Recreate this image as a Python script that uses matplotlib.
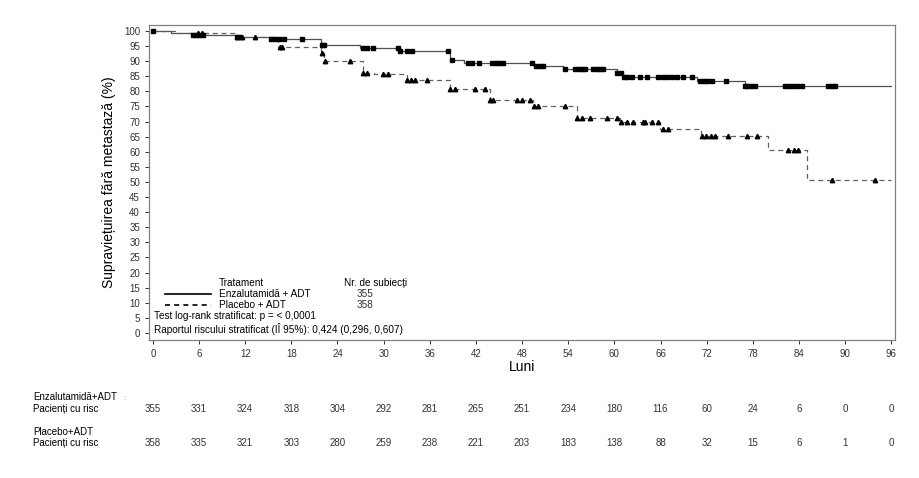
import matplotlib
matplotlib.use("Agg")
import matplotlib.pyplot as plt
import matplotlib.transforms as mtransforms
import numpy as np

plt.rcParams['font.family'] = ['Liberation Sans', 'DejaVu Sans']

# Kaplan-Meier step points (month, % free of metastasis)
enz_t = [0, 2.4, 5.2, 10.9, 15.4, 21.9, 26.9, 32.1, 38.6, 40.5, 49.5, 53.3, 60.3, 61.1, 70.7, 77.0]
enz_s = [100, 99.4, 98.7, 97.9, 97.4, 95.4, 94.3, 93.2, 90.5, 89.5, 88.3, 87.4, 86.0, 84.8, 83.5, 81.6]
pla_t = [0, 3.0, 10.9, 16.3, 21.8, 22.2, 27.3, 28.8, 33.0, 38.6, 43.8, 49.4, 55.1, 60.7, 65.9, 71.3, 80.0, 85.0]
pla_s = [100, 99.4, 97.9, 94.6, 92.6, 90.0, 86.2, 85.6, 83.8, 80.7, 77.2, 75.2, 71.1, 70.0, 67.4, 65.2, 60.6, 50.7]

# censored observations (months)
enz_cens = [0, 5.2, 5.6, 6.0, 6.5, 10.9, 11.3, 15.4, 15.9, 16.4, 17.1, 19.4, 22.0, 22.2, 27.3, 27.8,
            28.6, 31.9, 32.1, 33.0, 33.7, 38.4, 38.9, 41.0, 41.5, 42.4, 44.1, 44.6, 45.0, 45.5,
            49.3, 49.8, 50.3, 50.7, 53.6, 54.9, 55.4, 55.8, 56.2, 57.2, 57.7, 58.1, 58.5, 60.3,
            60.8, 61.2, 61.6, 62.3, 63.3, 64.2, 65.7, 66.3, 66.9, 67.5, 68.1, 68.9, 70.1, 71.1,
            71.6, 72.1, 72.7, 74.5, 77.0, 77.2, 77.7, 78.3, 82.2, 82.7, 83.2, 83.7, 84.4, 87.8,
            88.3, 88.7]
pla_cens = [5.9, 6.4, 10.9, 11.6, 13.3, 16.5, 16.8, 22.0, 22.4, 25.6, 27.3, 27.8, 29.9, 30.6,
            33.0, 33.5, 34.1, 35.6, 38.6, 39.3, 41.9, 43.2, 43.8, 44.2, 47.3, 48.0, 49.0, 49.5,
            50.1, 53.6, 55.1, 55.8, 56.8, 59.0, 60.3, 60.9, 61.6, 62.4, 64.0, 63.7, 64.9, 65.7,
            66.3, 67.0, 71.4, 71.9, 72.5, 73.1, 74.8, 77.2, 78.5, 82.6, 83.3, 83.9, 88.3, 93.9]

months = [0, 6, 12, 18, 24, 30, 36, 42, 48, 54, 60, 66, 72, 78, 84, 90, 96]
risk_enz = [355, 331, 324, 318, 304, 292, 281, 265, 251, 234, 180, 116, 60, 24, 6, 0, 0]
risk_pla = [358, 335, 321, 303, 280, 259, 238, 221, 203, 183, 138, 88, 32, 15, 6, 1, 0]
n_enz, n_pla = 355, 358
end_month = 96


def km_value(t, times, surv):
    idx = np.searchsorted(times, t, side='right') - 1
    return np.asarray(surv)[idx]


fig = plt.figure(figsize=(9.2, 4.78), dpi=100)
ax = fig.add_axes([0.162, 0.289, 0.811, 0.659])

line_col = '#505050'
ax.step(enz_t + [end_month], enz_s + [enz_s[-1]], where='post', color=line_col, lw=0.9)
ax.step(pla_t + [end_month], pla_s + [pla_s[-1]], where='post', color='#606060', lw=0.9,
        ls=(0, (4, 3)))
ax.plot(enz_cens, km_value(enz_cens, enz_t, enz_s), ls='none', marker='s', ms=3.0,
        color='black')
ax.plot(pla_cens, km_value(pla_cens, pla_t, pla_s), ls='none', marker='^', ms=3.2,
        color='black')

ax.set_xlim(-0.5, 96.5)
ax.set_ylim(-2.3, 102)
ax.set_xticks(months)
ax.set_yticks(range(0, 101, 5))
ax.tick_params(labelsize=7, colors='#333333', length=3, width=0.7)
for sp in ax.spines.values():
    sp.set_color('#808080')
    sp.set_linewidth(0.9)

ax.set_xlabel('Luni', fontsize=10, labelpad=1)
ax.set_ylabel('Supraviețuirea fără metastază (%)', fontsize=10, labelpad=6)

# legend block inside the axes
fs = 7.2
ax.text(8.6, 16.6, 'Tratament', fontsize=fs, va='center')
ax.text(24.9, 16.6, 'Nr. de subiecți', fontsize=fs, va='center')
ax.plot([1.6, 7.5], [13.0, 13.0], color='black', lw=1.2)
ax.plot([1.6, 7.5], [9.3, 9.3], color='black', lw=1.2, ls=(0, (3, 2.5)))
ax.text(8.6, 13.0, 'Enzalutamidă + ADT', fontsize=fs, va='center')
ax.text(8.6, 9.3, 'Placebo + ADT', fontsize=fs, va='center')
ax.text(26.5, 13.0, str(n_enz), fontsize=fs, va='center', color='#333333')
ax.text(26.5, 9.3, str(n_pla), fontsize=fs, va='center', color='#333333')
ax.text(0.2, 5.7, 'Test log-rank stratificat: p = < 0,0001', fontsize=fs, va='center')
ax.text(0.2, 1.4, 'Raportul riscului stratificat (IÎ 95%): 0,424 (0,296, 0,607)',
        fontsize=fs, va='center')

# number at risk table
trans = mtransforms.blended_transform_factory(ax.transData, fig.transFigure)
fig.text(33 / 920, 1 - 397 / 478, 'Enzalutamidă+ADT', fontsize=7, va='center')
fig.text(123 / 920, 1 - 398 / 478, ':', fontsize=6, va='center', color='#999999')
fig.text(33 / 920, 1 - 409 / 478, 'Pacienți cu risc', fontsize=7, va='center')
fig.text(33 / 920, 1 - 432 / 478, 'Placebo+ADT', fontsize=7, va='center')
fig.text(33 / 920, 1 - 443 / 478, 'Pacienți cu risc', fontsize=7, va='center')
for m, a, b in zip(months, risk_enz, risk_pla):
    ax.text(m, 1 - 409 / 478, str(a), transform=trans, fontsize=7, ha='center', va='center',
            color='#333333', clip_on=False)
    ax.text(m, 1 - 443 / 478, str(b), transform=trans, fontsize=7, ha='center', va='center',
            color='#333333', clip_on=False)

fig.savefig('out.png', dpi=100)
